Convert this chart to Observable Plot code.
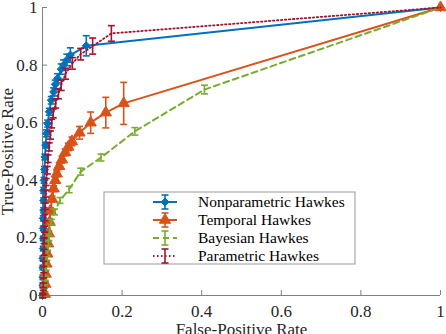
<!DOCTYPE html>
<html><head><meta charset="utf-8">
<script src="https://cdn.jsdelivr.net/npm/d3@7"></script>
<script src="https://cdn.jsdelivr.net/npm/@observablehq/plot@0.6"></script>
<style>
body{margin:0;background:#fff}
#chart{position:relative;width:446px;height:334px;overflow:hidden}
#chart svg, #chart svg text, #chart svg g{font-family:"Liberation Serif","DejaVu Serif",serif !important}
</style>
</head><body><div id="chart"></div>
<script>
// ---------- data ----------
const seriesNames = ["Nonparametric Hawkes", "Temporal Hawkes", "Bayesian Hawkes", "Parametric Hawkes"];
const seriesColors = ["#0072BD", "#D95319", "#77AC30", "#A2142F"];

const nonparamFPR = [0, 0.001, 0.001, 0.001, 0.001, 0.002, 0.002, 0.002, 0.002, 0.003, 0.003, 0.003, 0.004, 0.005, 0.006, 0.008, 0.010, 0.013, 0.017, 0.022, 0.028, 0.032, 0.038, 0.047, 0.053, 0.061, 0.070, 0.110, 1];
const nonparamTPR = [0, 0.035, 0.063, 0.097, 0.129, 0.163, 0.198, 0.233, 0.268, 0.296, 0.33, 0.365, 0.40, 0.438, 0.481, 0.522, 0.563, 0.597, 0.638, 0.678, 0.707, 0.733, 0.754, 0.786, 0.80, 0.818, 0.835, 0.867, 1];
const nonparamErr = [0.008, 0.008, 0.008, 0.008, 0.008, 0.008, 0.008, 0.008, 0.009, 0.009, 0.009, 0.01, 0.01, 0.01, 0.01, 0.01, 0.012, 0.012, 0.012, 0.013, 0.014, 0.015, 0.016, 0.018, 0.018, 0.02, 0.025, 0.035, 0];

const temporalFPR = [0.006, 0.007, 0.008, 0.010, 0.012, 0.014, 0.016, 0.018, 0.020, 0.024, 0.028, 0.032, 0.036, 0.042, 0.049, 0.057, 0.065, 0.074, 0.093, 0.121, 0.159, 0.204, 1];
const temporalTPR = [0.005, 0.04, 0.075, 0.11, 0.145, 0.18, 0.215, 0.255, 0.295, 0.335, 0.371, 0.40, 0.423, 0.449, 0.472, 0.497, 0.516, 0.535, 0.565, 0.60, 0.635, 0.667, 1];
const temporalErr = [0.008, 0.008, 0.008, 0.008, 0.008, 0.008, 0.009, 0.009, 0.009, 0.01, 0.01, 0.01, 0.01, 0.011, 0.012, 0.012, 0.013, 0.015, 0.022, 0.037, 0.053, 0.073, 0];

const bayesFPR = [0.003, 0.005, 0.007, 0.009, 0.011, 0.013, 0.016, 0.022, 0.030, 0.044, 0.067, 0.096, 0.147, 0.232, 0.407, 1];
const bayesTPR = [0.005, 0.03, 0.06, 0.095, 0.13, 0.165, 0.20, 0.255, 0.29, 0.33, 0.368, 0.43, 0.479, 0.57, 0.715, 1];
const bayesErr = [0.006, 0.006, 0.007, 0.007, 0.008, 0.008, 0.009, 0.009, 0.01, 0.01, 0.011, 0.012, 0.012, 0.013, 0.015, 0];

const paramFPR = [0.001, 0.002, 0.002, 0.003, 0.003, 0.004, 0.004, 0.005, 0.006, 0.007, 0.008, 0.009, 0.012, 0.014, 0.017, 0.020, 0.023, 0.027, 0.033, 0.040, 0.047, 0.058, 0.075, 0.096, 0.126, 0.173, 1];
const paramTPR = [0, 0.01, 0.035, 0.07, 0.11, 0.15, 0.19, 0.23, 0.27, 0.31, 0.354, 0.394, 0.435, 0.475, 0.516, 0.557, 0.597, 0.632, 0.667, 0.70, 0.73, 0.77, 0.806, 0.838, 0.866, 0.91, 1];
const paramErr = [0.008, 0.008, 0.008, 0.009, 0.009, 0.01, 0.01, 0.01, 0.011, 0.011, 0.012, 0.012, 0.013, 0.013, 0.014, 0.014, 0.015, 0.015, 0.016, 0.017, 0.018, 0.019, 0.02, 0.02, 0.028, 0.027, 0];

const xTicks = [0, 0.2, 0.4, 0.6, 0.8, 1];
const yTicks = [0, 0.2, 0.4, 0.6, 0.8, 1];
const xLabel = "False-Positive Rate";
const yLabel = "True-Positive Rate";

// ---------- build tables ----------
function table(fpr, tpr, err) {
  return fpr.map((f, i) => ({fpr: f, tpr: tpr[i], err: err[i]}));
}
const series = [
  {rows: table(nonparamFPR, nonparamTPR, nonparamErr), color: seriesColors[0], dash: null, width: 2, marker: "diamond2", markerR: 3.6},
  {rows: table(temporalFPR, temporalTPR, temporalErr), color: seriesColors[1], dash: null, width: 2, marker: "triangle", markerR: 4.2},
  {rows: table(bayesFPR, bayesTPR, bayesErr), color: seriesColors[2], dash: "6,4", width: 2, marker: null},
  {rows: table(paramFPR, paramTPR, paramErr), color: seriesColors[3], dash: "1.5,2.5", width: 1.8, marker: null}
];

const capSymbol = {draw(ctx, size) { const r = Math.sqrt(size / Math.PI); ctx.moveTo(-r, 0); ctx.lineTo(r, 0); }};
const fmt = d3.format("~g");
const axisColor = "#7f7f7f";
const textColor = "#262626";
const serif = "Liberation Serif";

const marks = [
  Plot.ruleY([0], {stroke: axisColor}),
  Plot.ruleX([0], {stroke: axisColor}),
  Plot.axisX({ticks: xTicks, tickSize: -5, stroke: axisColor, fill: "none", tickFormat: fmt, label: null}),
  Plot.axisY({ticks: yTicks, tickSize: -5, stroke: axisColor, fill: "none", tickFormat: fmt, label: null}),
  Plot.axisX({ticks: xTicks, tickSize: 0, tickPadding: 9, tickFormat: fmt, fill: textColor, fontFamily: serif,
    label: xLabel, labelAnchor: "center", labelArrow: "none", labelOffset: 39, fontSize: 17}),
  Plot.axisY({ticks: yTicks, tickSize: 0, tickPadding: 5, tickFormat: fmt, fill: textColor, fontFamily: serif,
    label: yLabel, labelAnchor: "center", labelArrow: "none", labelOffset: 42, fontSize: 17})
];

for (const s of series) {
  const withErr = s.rows.filter(d => d.err > 0);
  marks.push(Plot.line(s.rows, {x: "fpr", y: "tpr", stroke: s.color, strokeWidth: s.width, strokeDasharray: s.dash}));
  marks.push(Plot.ruleX(withErr, {x: "fpr", y1: d => d.tpr - d.err, y2: d => d.tpr + d.err, stroke: s.color, strokeWidth: 1.6}));
  marks.push(Plot.dot(withErr, {x: "fpr", y: d => d.tpr - d.err, symbol: capSymbol, r: 3.5, stroke: s.color, fill: "none", strokeWidth: 1.6}));
  marks.push(Plot.dot(withErr, {x: "fpr", y: d => d.tpr + d.err, symbol: capSymbol, r: 3.5, stroke: s.color, fill: "none", strokeWidth: 1.6}));
  if (s.marker) {
    marks.push(Plot.dot(s.rows, {x: "fpr", y: "tpr", symbol: s.marker, r: s.markerR, fill: s.color, stroke: s.color, strokeWidth: 1}));
  }
}

const chart = Plot.plot({
  width: 446,
  height: 334,
  marginLeft: 42,
  marginRight: 6,
  marginTop: 7,
  marginBottom: 39,
  x: {domain: [0, 1]},
  y: {domain: [0, 1]},
  style: {fontSize: "17px", fontFamily: serif, color: textColor, background: "#fff", overflow: "visible"},
  marks
});
chart.setAttribute("font-family", serif);
document.getElementById("chart").appendChild(chart);

// ---------- legend (inside the axes, MATLAB style) ----------
const svg = d3.select(chart);
const lg = svg.append("g").attr("transform", "translate(104,192)");
lg.append("rect").attr("width", 251).attr("height", 72).attr("fill", "#fff").attr("stroke", "#999").attr("stroke-width", 1);
series.forEach((s, i) => {
  const y = 10 + i * 18;
  const g = lg.append("g").attr("transform", `translate(0,${y})`);
  g.append("line").attr("x1", 49).attr("x2", 73).attr("y1", 0).attr("y2", 0)
    .attr("stroke", s.color).attr("stroke-width", s.width).attr("stroke-dasharray", s.dash);
  g.append("line").attr("x1", 61).attr("x2", 61).attr("y1", -7).attr("y2", 7).attr("stroke", s.color).attr("stroke-width", 1.6);
  g.append("line").attr("x1", 57.5).attr("x2", 64.5).attr("y1", -7).attr("y2", -7).attr("stroke", s.color).attr("stroke-width", 1.6);
  g.append("line").attr("x1", 57.5).attr("x2", 64.5).attr("y1", 7).attr("y2", 7).attr("stroke", s.color).attr("stroke-width", 1.6);
  if (s.marker) {
    g.append("path").attr("transform", "translate(61,0)")
      .attr("d", d3.symbol(s.marker === "triangle" ? d3.symbolTriangle : d3.symbolDiamond2, Math.PI * s.markerR * s.markerR)())
      .attr("fill", s.color).attr("stroke", s.color);
  }
  g.append("text").attr("x", 94).attr("y", 0).attr("dy", "0.35em").attr("text-anchor", "start")
    .attr("font-family", serif).attr("font-size", 15.5).attr("fill", "#000").text(seriesNames[i]);
});
</script>
</body></html>
